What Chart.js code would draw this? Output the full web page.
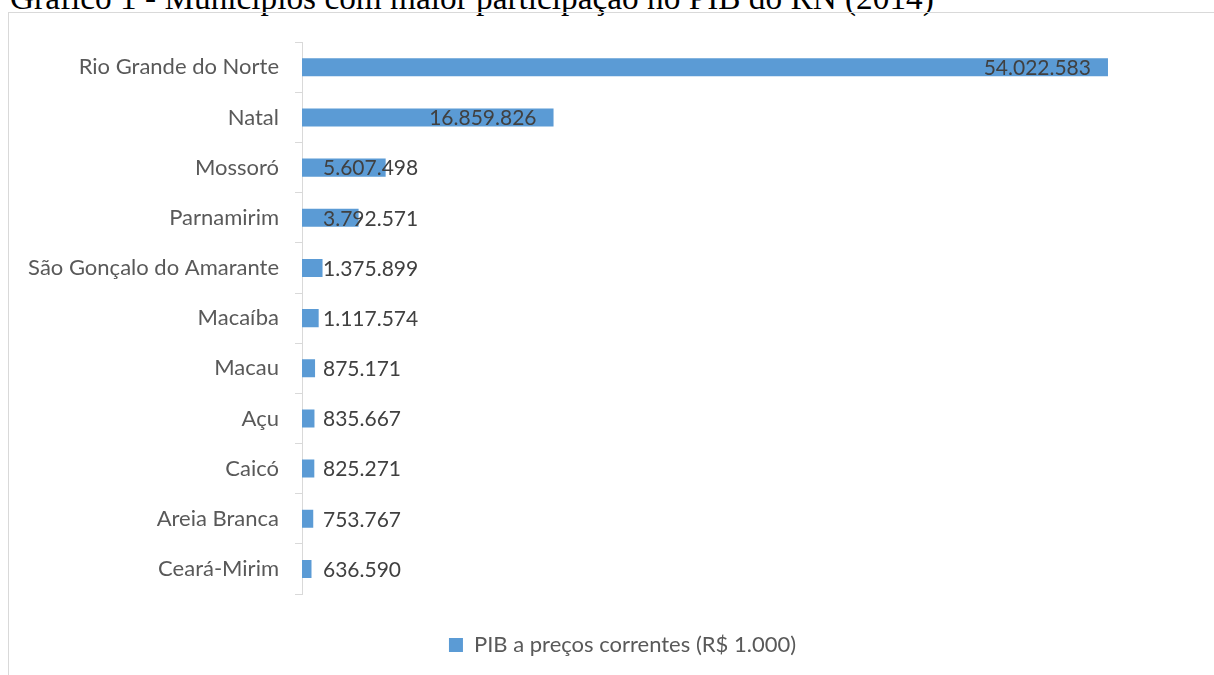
<!DOCTYPE html>
<html lang="pt-BR">
<head>
<meta charset="utf-8">
<title>Gráfico 1 - Municípios com maior participação no PIB do RN (2014)</title>
<script src="https://cdn.jsdelivr.net/npm/chart.js@4/dist/chart.umd.min.js"></script>
<style>
  html, body { margin: 0; padding: 0; background: #fff; overflow: hidden; }
  body { width: 1214px; height: 675px; position: relative; }
  #title {
    position: absolute; left: 10px; top: -19px; white-space: nowrap;
    font-family: "Liberation Serif", "Times New Roman", serif;
    font-size: 33.3px; line-height: 33px; color: #000;
  }
  #frame {
    position: absolute; left: 8px; top: 12px; width: 1229px; height: 740px;
    border: 1px solid #d9d9d9; box-sizing: border-box;
  }
  #chart { position: absolute; left: 0; top: 0; }
</style>
</head>
<body>
<div id="title">Gráfico 1 - Municípios com maior participação no PIB do RN (2014)</div>
<div id="frame"><canvas id="chart" width="1227" height="720"></canvas></div>
<script>
// Municípios e PIB a preços correntes (R$ 1.000), 2014
const categories = ['Rio Grande do Norte', 'Natal', 'Mossoró', 'Parnamirim', 'São Gonçalo do Amarante',
  'Macaíba', 'Macau', 'Açu', 'Caicó', 'Areia Branca', 'Ceará-Mirim'];
const pibValues = [54022583, 16859826, 5607498, 3792571, 1375899, 1117574, 875171, 835667, 825271, 753767, 636590];
const seriesLabel = 'PIB a preços correntes (R$ 1.000)';
const axisMax = 62000000; // value axis is hidden in the original

const fontFamily = 'Lato, "Open Sans", sans-serif';
const sidePad = 9;

function formatBR(v) {
  return v.toString().replace(/\B(?=(\d{3})+(?!\d))/g, '.');
}

// Excel-like data labels: inside end, pushed right when the bar is too short
const barLabels = {
  id: 'barLabels',
  afterDatasetsDraw(chart) {
    const ctx = chart.ctx;
    const meta = chart.getDatasetMeta(0);
    ctx.save();
    ctx.font = '21px ' + fontFamily;
    ctx.fillStyle = '#404040';
    ctx.textBaseline = 'middle';
    ctx.textAlign = 'left';
    meta.data.forEach((bar, i) => {
      const text = formatBR(pibValues[i]);
      const w = ctx.measureText(text).width;
      const left = Math.max(bar.x - 17 - w, bar.base + 21);
      ctx.fillText(text, left, bar.y + 1);
    });
    ctx.restore();
  }
};

new Chart(document.getElementById('chart'), {
  type: 'bar',
  data: {
    labels: categories,
    datasets: [{
      label: seriesLabel,
      data: pibValues,
      backgroundColor: '#5b9bd5',
      borderWidth: 0,
      barPercentage: 0.36,
      categoryPercentage: 1
    }]
  },
  options: {
    indexAxis: 'y',
    responsive: false,
    animation: false,
    layout: { padding: { top: 28, right: sidePad, bottom: 67, left: sidePad } },
    scales: {
      x: { display: false, min: 0, max: axisMax },
      y: {
        afterFit: (scale) => { scale.width = 293 - sidePad; },
        border: { display: true, color: '#d9d9d9', width: 1 },
        grid: { drawOnChartArea: false, tickLength: 7, color: '#d9d9d9', offset: true },
        ticks: { color: '#595959', font: { family: fontFamily, size: 22 }, padding: 16 }
      }
    },
    plugins: {
      legend: {
        position: 'bottom',
        labels: {
          color: '#595959',
          font: { family: fontFamily, size: 22 },
          boxWidth: 14, boxHeight: 14, padding: 40
        }
      },
      tooltip: { enabled: false }
    }
  },
  plugins: [barLabels]
});
</script>
</body>
</html>
